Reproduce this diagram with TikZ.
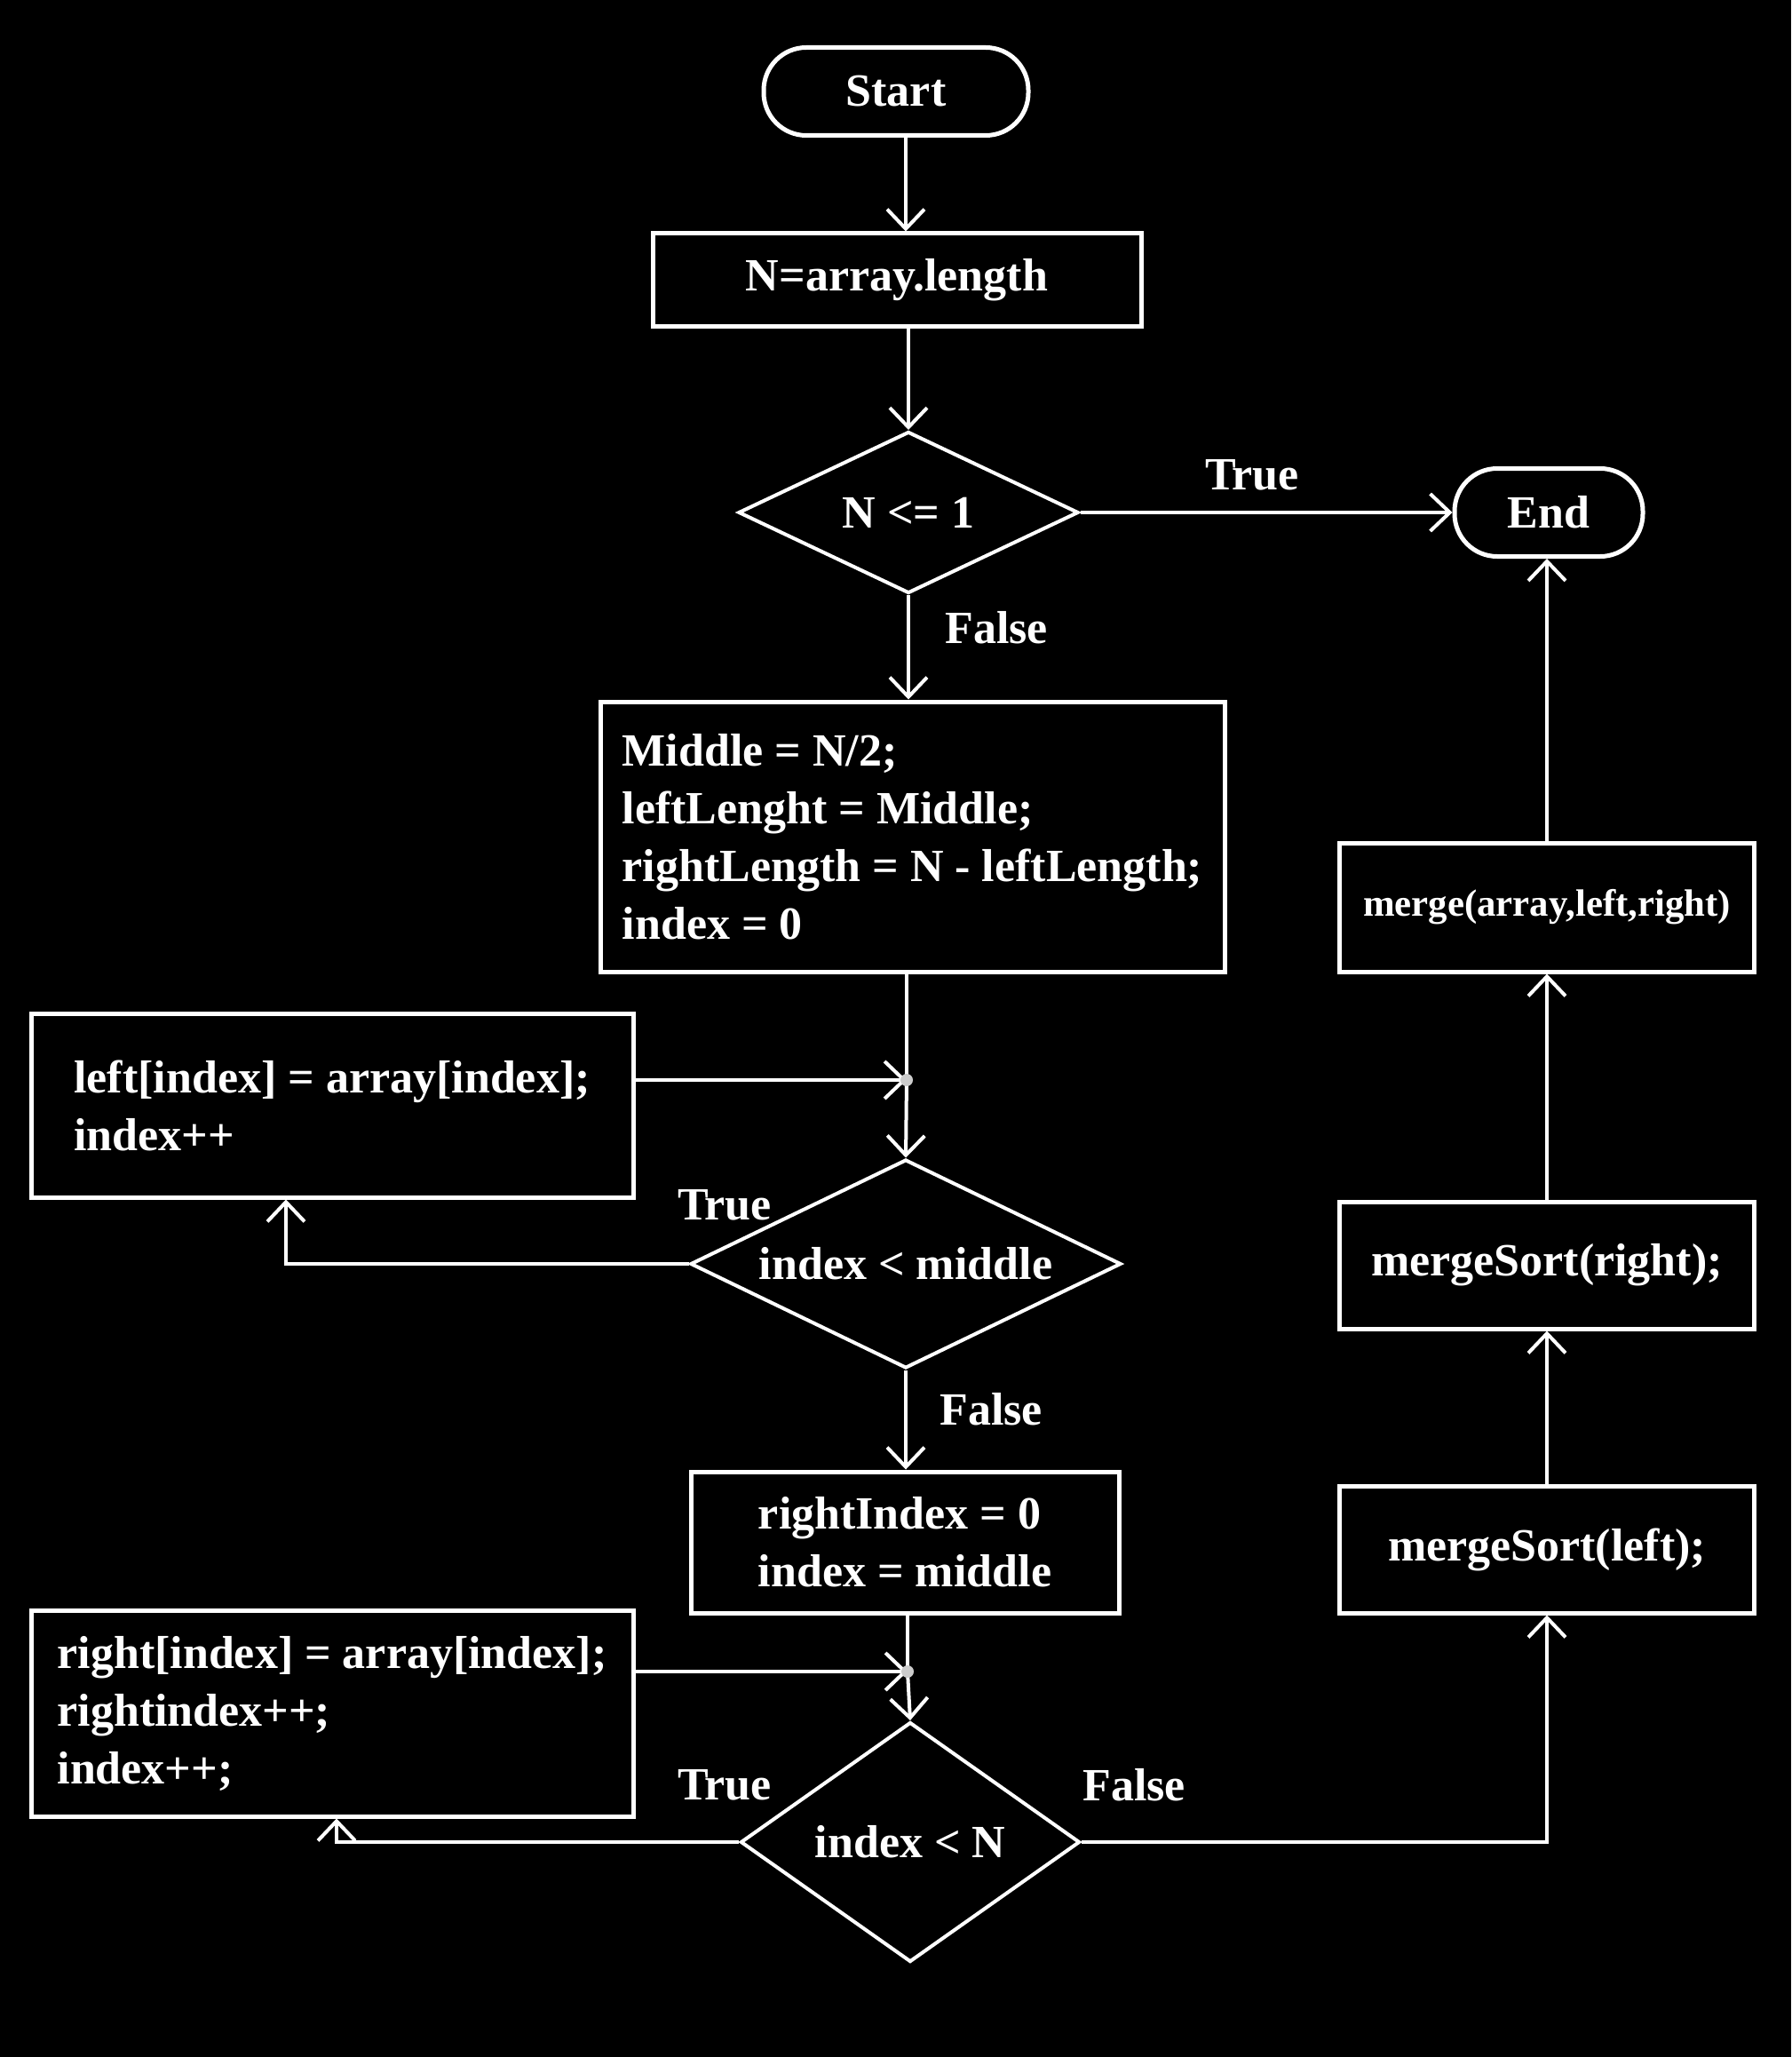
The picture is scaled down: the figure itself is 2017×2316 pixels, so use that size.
\documentclass[tikz,border=0pt]{standalone}
\usepackage{fontspec}
\setmainfont{Liberation Serif}
\usetikzlibrary{shapes.geometric,arrows.meta}
\begin{document}
\begin{tikzpicture}[x=0.5pt,y=-0.5pt,
  every node/.style={text=white,font=\bfseries\fontsize{26}{32.5}\selectfont},
  term/.style={draw=white,line width=2.5pt,rounded corners=24pt,inner sep=0pt},
  proc/.style={draw=white,line width=2.5pt,inner sep=0pt,align=left},
  dec/.style={draw=white,diamond,line width=2pt,inner sep=0pt},
  link/.style={draw=white,line width=2pt},
  flow/.style={link,-{Straight Barb[length=11pt,width=21pt]}},
  lbl/.style={inner sep=0pt},
  dot/.style={circle,fill=black!20,inner sep=0pt,minimum width=5pt,minimum height=7pt}]

% canvas
\fill[black] (0,0) rectangle (2017,2316);
\useasboundingbox (0,0) rectangle (2017,2316);

% main column
\node[term,minimum width=149pt,minimum height=49.5pt] (start) at (1009,103) {Start};
\node[proc,minimum width=275pt,minimum height=52.5pt] (init) at (1010,315.5) {N=array.length};
\node[dec,aspect=2.1,minimum width=191.5pt,minimum height=91pt] (d1) at (1023,577) {N <= 1};
\node[term,minimum width=106pt,minimum height=49.5pt] (finish) at (1744,577) {End};
\node[proc,minimum width=351.5pt,minimum height=152pt] (mid) at (1027.5,942)
  {Middle = N/2;\\leftLenght = Middle;\\rightLength = N - leftLength;\\index = 0};
\coordinate (j1) at (1021,1216);
\node[proc,minimum width=339pt,minimum height=103.5pt] (leftbox) at (374,1244.5)
  {left[index] = array[index];\\index++};
\node[dec,aspect=2.06,minimum width=242.5pt,minimum height=117.5pt] (d2) at (1020,1423) {index < middle};
\node[proc,minimum width=241pt,minimum height=79.5pt] (rbox) at (1019,1736.5)
  {rightIndex = 0\\index = middle};
\coordinate (j2) at (1022,1882);
\node[proc,minimum width=339pt,minimum height=116pt] (rightbox) at (374,1929)
  {right[index] = array[index];\\rightindex++;\\index++;};
\node[dec,aspect=1.41,minimum width=191pt,minimum height=135pt] (d3) at (1025,2074) {index < N};

% recursion column
\node[proc,minimum width=233.5pt,minimum height=71.5pt] (msl) at (1742,1744.5) {mergeSort(left);};
\node[proc,minimum width=233.5pt,minimum height=71.5pt] (msr) at (1742,1424.5) {mergeSort(right);};
\node[proc,minimum width=233.5pt,minimum height=72.5pt,font=\bfseries\fontsize{21.4}{26}\selectfont] (mg) at (1742,1021.5) {merge(array,left,right)};

% branch labels
\node[lbl] (t1) at (1410,535) {True};
\node[lbl] (f1) at (1122,707) {False};
\node[lbl] (t2) at (816,1357) {True};
\node[lbl] (f2) at (1116,1587) {False};
\node[lbl] (t3) at (816,2010) {True};
\node[lbl] (f3) at (1277,2010) {False};

% connectors
\draw[flow] (start.south -| 1020,0) -- (init.north -| 1020,0);
\draw[flow] (init.south -| d1.north) -- (d1.north);
\draw[flow] (d1.east) -- (finish.west);
\draw[flow] (d1.south) -- (mid.north -| d1.south);
\draw[link] (mid.south -| j1) -- (j1);
\draw[flow] (j1) -- (d2.north);
\draw[flow] (leftbox.east |- j1) -- (j1);
\draw[flow] (d2.west) -| ([xshift=-26pt]leftbox.south);
\draw[flow] (d2.south) -- (rbox.north -| d2.south);
\draw[link] (rbox.south -| j2) -- (j2);
\draw[flow] (j2) -- (d3.north);
\draw[flow] (rightbox.east |- j2) -- (j2);
\draw[flow] (d3.west) -| ([xshift=2.5pt]rightbox.south);
\draw[flow] (d3.east) -| (msl.south);
\draw[flow] (msl.north) -- (msr.south);
\draw[flow] (msr.north) -- (mg.south);
\draw[flow] (mg.north) -- (finish.south -| mg.north);

% junction markers
\node[dot] (j1dot) at (j1) {};
\node[dot] (j2dot) at (j2) {};
\end{tikzpicture}
\end{document}
